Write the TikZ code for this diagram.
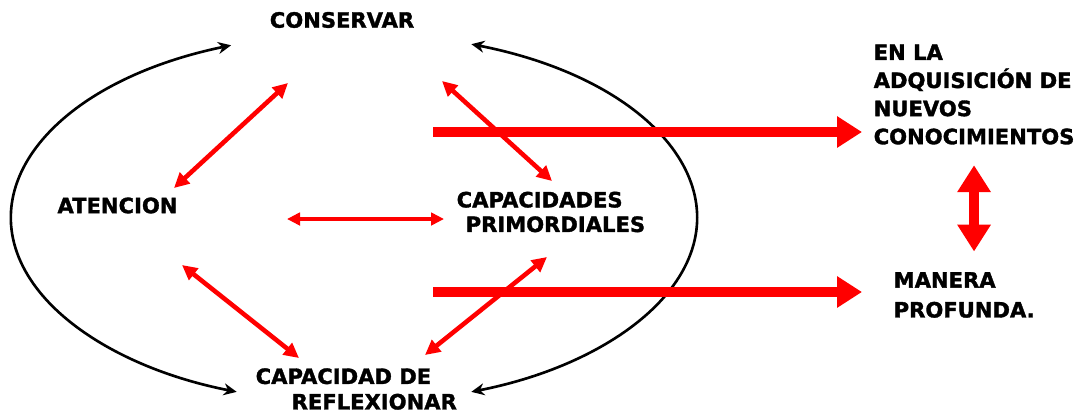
\documentclass[tikz,border=0pt]{standalone}
\usepackage{fontspec}
\setmainfont{DejaVu Sans}[BoldFeatures={FakeBold=1.6}]
\usetikzlibrary{arrows.meta,calc}

\begin{document}
\begin{tikzpicture}[thick]
    % `concept' is used for every block of text.
    % `link' and `thinlink' are the red double arrows between concepts.
    % `bigarrow' and `vertarrow' are the wide red arrows on the right.
    % `arcline' is used for the two black arcs of the ellipse.
    \tikzstyle{concept} = [font=\bfseries\fontsize{12}{16}\selectfont,inner sep=0pt,align=left]
    \tikzstyle{link} = [draw=red,line width=2.6pt,{Triangle[length=3mm,width=2.9mm]}-{Triangle[length=3mm,width=2.9mm]}]
    \tikzstyle{thinlink} = [draw=red,line width=1.8pt,{Triangle[length=2.6mm,width=2.5mm]}-{Triangle[length=2.6mm,width=2.5mm]}]
    \tikzstyle{bigarrow} = [draw=red,line width=5.6pt,-{Triangle[length=5mm,width=6mm]}]
    \tikzstyle{vertarrow} = [draw=red,line width=5.6pt,{Triangle[length=5.4mm,width=6.4mm]}-{Triangle[length=5.4mm,width=6.4mm]}]
    \tikzstyle{arcline} = [draw=black,line width=1.5pt,{Stealth[length=2.6mm,width=2.4mm]}-{Stealth[length=2.6mm,width=2.4mm]}]
    %
    \useasboundingbox (0,0) rectangle (21.76,8.3);
    % Concepts.
    \node[concept] (cons) at (6.84,7.9) {CONSERVAR};
    \node[concept] (aten) at (2.35,4.19) {ATENCION};
    \node[concept,anchor=west] (capac) at (9.12,4.06)
      {CAPACIDADES\\[-2pt]\hspace*{0.18cm}PRIMORDIALES};
    \node[concept,anchor=west] (refl) at (5.1,0.52)
      {CAPACIDAD DE\\[-1.5pt]\hspace*{0.72cm}REFLEXIONAR};
    \node[concept,anchor=west] (know) at (17.46,6.41)
      {EN LA\\ADQUISICIÓN DE\\NUEVOS\\CONOCIMIENTOS};
    \node[concept,anchor=west] (manera) at (17.86,2.4)
      {MANERA\\[1pt]PROFUNDA.};
    %
    % Ends of the red double arrows.
    \coordinate (ca1) at (5.76,6.64);  \coordinate (ca2) at (3.48,4.54);
    \coordinate (cp1) at (8.84,6.68);  \coordinate (cp2) at (11.04,4.68);
    \coordinate (ap1) at (5.74,3.92);  \coordinate (ap2) at (8.88,3.92);
    \coordinate (ar1) at (3.64,3.0);   \coordinate (ar2) at (5.98,1.14);
    \coordinate (pr1) at (10.94,3.16); \coordinate (pr2) at (8.5,1.2);
    \coordinate (b1) at (8.66,5.66);   \coordinate (b2) at (8.66,2.46);
    \coordinate (mid) at (7.08,3.94);
    %
    % Draw the black arcs.
    \draw[arcline] ($(mid)+(111:6.86 and 3.7)$)
      arc[start angle=111,end angle=250,x radius=6.86,y radius=3.7];
    \draw[arcline] ($(mid)+(70:6.86 and 3.7)$)
      arc[start angle=70,end angle=-70,x radius=6.86,y radius=3.7];
    %
    % Draw the red arrows.
    \draw[link] (ca1) -- (ca2);
    \draw[link] (cp1) -- (cp2);
    \draw[thinlink] (ap1) -- (ap2);
    \draw[link] (ar1) -- (ar2);
    \draw[link] (pr1) -- (pr2);
    \draw[bigarrow,shorten >=2.2mm] (b1) -- (b1 -| know.west);
    \draw[bigarrow,shorten >=6.2mm] (b2) -- (b2 -| manera.west);
    \draw[vertarrow] ([yshift=-4mm]know.south) -- ([yshift=4mm]know.south |- manera.north);
\end{tikzpicture}
\end{document}
